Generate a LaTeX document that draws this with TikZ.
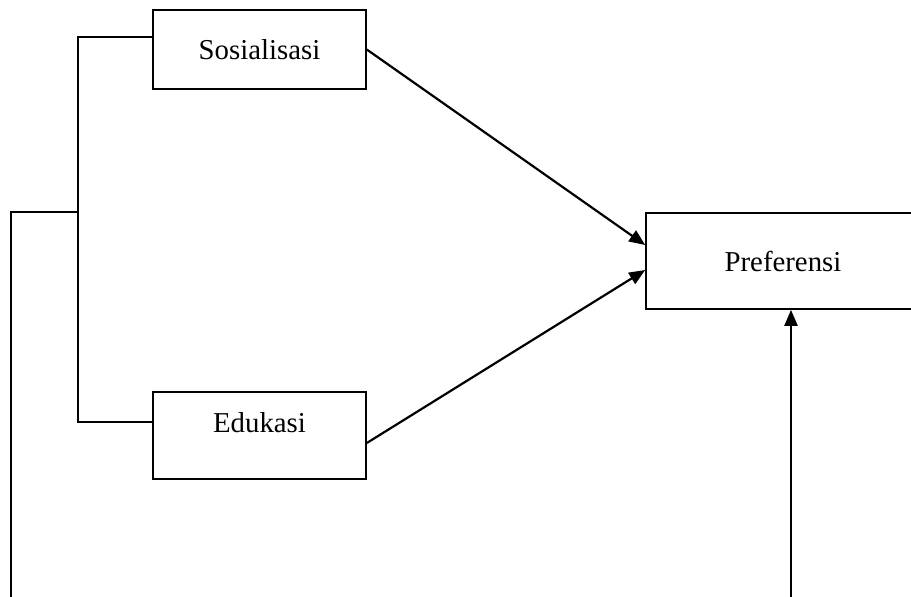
\documentclass[tikz,border=0pt]{standalone}
\usepackage{fontspec}
\setmainfont{Liberation Serif}
\usepackage{tikz}
\usetikzlibrary{arrows.meta, positioning, calc}

\begin{document}
\begin{tikzpicture}[
    x=0.5pt, y=-0.5pt,
    varbox/.style={rectangle, draw=black, line width=0.8pt, minimum width=106.5pt, minimum height=39.5pt, align=center, font=\fontsize{14.4}{17}\selectfont},
    link/.style={line width=0.8pt, draw=black},
    effect/.style={-{Triangle[length=8pt, width=6.5pt]}, line width=1.1pt, draw=black}
]
\useasboundingbox (0,0) rectangle (911,596);

% Variables
\node[varbox] (sos) at (259.5,49.5) {Sosialisasi};
\node[varbox, minimum height=43.5pt, text depth=13.5pt] (edu) at (259.5,435.5) {Edukasi};
\node[varbox, minimum width=137pt, minimum height=48pt] (pref) at (783,261) {Preferensi};

% Bracket
\coordinate (hub) at (78,212);
\coordinate (foot) at (11,598);
\coordinate (base) at (791,598);
\draw[link] ([yshift=6.25pt]sos.west) -| (hub) |- ([yshift=6.75pt]edu.west);
\draw[link, line width=1.1pt] (hub) -| (foot);

% Effects
\draw[effect] (sos.east) -- ([yshift=8pt]pref.west);
\draw[effect] ([yshift=-3.75pt]edu.east) -- ([yshift=-4.5pt]pref.west);
\draw[effect] (base) -- (base |- pref.south);

\end{tikzpicture}
\end{document}
